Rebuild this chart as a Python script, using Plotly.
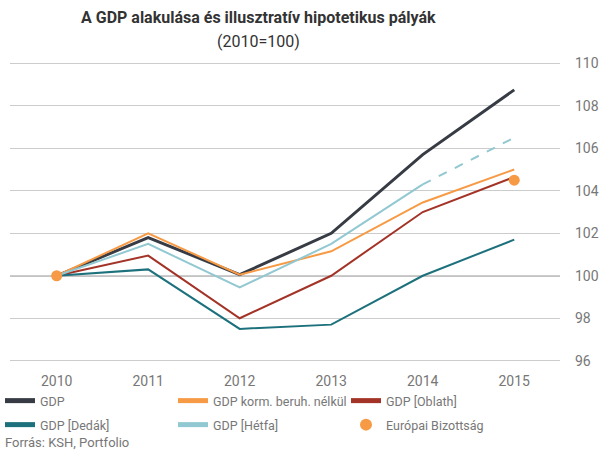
import plotly.graph_objects as go

years = [2010, 2011, 2012, 2013, 2014, 2015]
gdp = [100, 101.8, 100.05, 102.0, 105.7, 108.75]
korm = [100, 102.0, 100.05, 101.15, 103.45, 105.0]
oblath = [100, 100.95, 98.0, 100.0, 103.0, 104.65]
dedak = [100, 100.3, 97.5, 97.7, 100.0, 101.7]
hetfa = [100, 101.5, 99.45, 101.5, 104.3]
hetfa_dash_x = [2014, 2015]
hetfa_dash_y = [104.3, 106.5]
eu_x = [2010, 2015]
eu_y = [100, 104.5]
y_ticks = [96, 98, 100, 102, 104, 106, 108, 110]

FONT = "Roboto"
GRAY = "#777777"

fig = go.Figure()
fig.add_trace(go.Scatter(x=years, y=gdp, mode="lines", name="GDP", legend="legend",
                         line=dict(color="#363b44", width=3)))
fig.add_trace(go.Scatter(x=years, y=korm, mode="lines", name="GDP korm. beruh. nélkül",
                         legend="legend", line=dict(color="#f79a45", width=2)))
fig.add_trace(go.Scatter(x=years, y=oblath, mode="lines", name="GDP [Oblath]",
                         legend="legend", line=dict(color="#a33327", width=2)))
fig.add_trace(go.Scatter(x=years, y=dedak, mode="lines", name="GDP [Dedák]",
                         legend="legend2", line=dict(color="#1d717c", width=2)))
fig.add_trace(go.Scatter(x=years[:5], y=hetfa, mode="lines", name="GDP [Hétfa]",
                         legend="legend2", line=dict(color="#92c8d1", width=2)))
fig.add_trace(go.Scatter(x=eu_x, y=eu_y, mode="markers", name="Európai Bizottság",
                         legend="legend2", marker=dict(color="#f79a45", size=11)))
fig.add_trace(go.Scatter(x=hetfa_dash_x, y=hetfa_dash_y, mode="lines", showlegend=False,
                         line=dict(color="#92c8d1", width=2, dash="dash")))

leg_common = dict(orientation="h", xref="container", yref="container",
                  x=-7 / 602, xanchor="left", yanchor="middle",
                  entrywidth=128, entrywidthmode="pixels",
                  font=dict(family=FONT, size=12.5, color=GRAY),
                  bgcolor="rgba(0,0,0,0)", itemsizing="constant")

fig.update_layout(
    width=602, height=458,
    margin=dict(l=10, r=42, t=55, b=93, autoexpand=False),
    paper_bgcolor="white", plot_bgcolor="white",
    font=dict(family=FONT, color=GRAY, size=13),
    xaxis=dict(range=[2009.49, 2015.5], tickvals=years, showgrid=False, zeroline=False,
               showline=False, ticks="", ticklabelstandoff=6,
               tickfont=dict(size=14, color=GRAY)),
    yaxis=dict(range=[95.8, 110.39], side="right", tickvals=y_ticks, showgrid=True,
               gridcolor="#cccccc", gridwidth=1, zeroline=False, showline=False,
               ticks="", ticklabelstandoff=14, tickfont=dict(size=14, color=GRAY)),
    legend=dict(leg_common, y=1 - 401 / 458),
    legend2=dict(leg_common, y=1 - 425 / 458),
    showlegend=True,
)
fig.add_shape(type="line", xref="paper", x0=0, x1=1, yref="y", y0=100, y1=100,
              line=dict(color="#888888", width=1.5), layer="below")
fig.add_annotation(text="<b>A GDP alakulása és illusztratív hipotetikus pályák</b>",
                   xref="paper", yref="paper", x=(258 - 10) / 550, y=1 + (55 - 18) / 310,
                   xanchor="center", yanchor="middle", showarrow=False,
                   font=dict(family=FONT, size=16, color="#333333"))
fig.add_annotation(text="(2010=100)",
                   xref="paper", yref="paper", x=(258 - 10) / 550, y=1 + (55 - 41) / 310,
                   xanchor="center", yanchor="middle", showarrow=False,
                   font=dict(family=FONT, size=16, color="#333333"))
fig.add_annotation(text="Forrás: KSH, Portfolio",
                   xref="paper", yref="paper", x=-7 / 550, y=-(443 - 365) / 310,
                   xanchor="left", yanchor="middle", showarrow=False,
                   font=dict(family=FONT, size=13, color=GRAY))

fig.write_html("out.html")
